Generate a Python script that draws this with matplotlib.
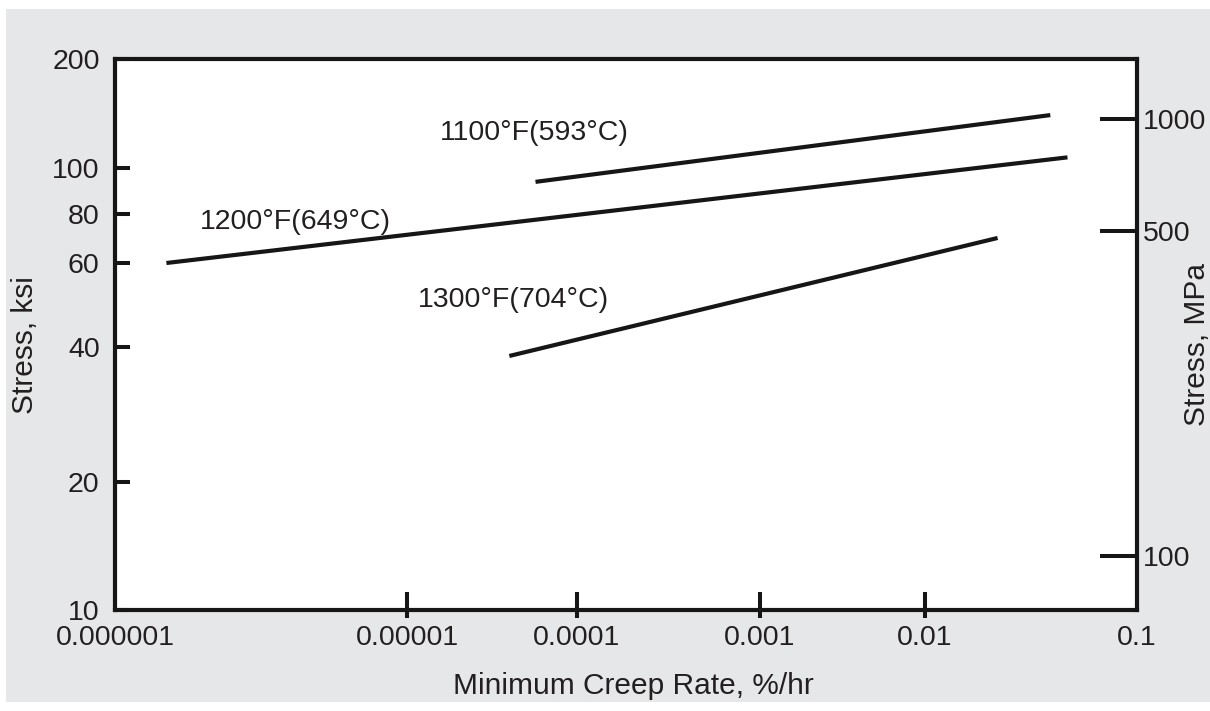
"""
Minimum creep rate vs stress for three test temperatures.
"""
import matplotlib
matplotlib.use("Agg")
import matplotlib.pyplot as plt
import numpy as np
from matplotlib.patches import Rectangle

# --- data ---
tempLabels = ["1100°F(593°C)", "1200°F(649°C)", "1300°F(704°C)"]
rate1100 = [5.7e-5, 0.039]
stress1100 = [93.5, 140]
rate1200 = [1.5e-6, 0.047]
stress1200 = [60, 107]
rate1300 = [4.0e-5, 0.022]
stress1300 = [38.2, 69.5]

labelRates = [1.56e-5, 1.95e-6, 1.16e-5]
labelStress = [125, 76.3, 50.2]

xTicks = [1e-6, 1e-5, 1e-4, 1e-3, 1e-2, 1e-1]
xTickLabels = ["0.000001", "0.00001", "0.0001", "0.001", "0.01", "0.1"]
ksiTicks = [10, 20, 40, 60, 80, 100, 200]
mpaTicks = [100, 500, 1000]

# the printed axes are hand drawn, so decades are not evenly spaced:
# pixel offsets of each tick from the axis origin
xTickPix = [0, 292, 462, 645, 810, 1022]
ksiTickPix = [0, 128, 263, 347, 396, 442, 551]
mpaKnots = [76.5, 100, 500, 1000, 1450]
mpaKnotPix = [0, 54, 379, 491, 551]

INK = "#231f20"
FONT = "Liberation Sans"
TICKSIZE = 20.5
LABELSIZE = 21.5


def makeScale(values, pix):
    """
    Builds forward/inverse functions for a piecewise log scale.

    :param values: Data values at the knots.
    :param pix: Pixel positions of the knots.
    :return: (forward, inverse) pair for FuncScale.
    """
    logv = np.log10(np.asarray(values, float))
    pix = np.asarray(pix, float)
    s0 = (pix[1] - pix[0]) / (logv[1] - logv[0])
    s1 = (pix[-1] - pix[-2]) / (logv[-1] - logv[-2])

    def forward(v):
        v = np.asarray(v, float)
        lv = np.log10(np.clip(v, 1e-30, None))
        out = np.interp(lv, logv, pix)
        out = np.where(lv < logv[0], pix[0] + (lv - logv[0]) * s0, out)
        out = np.where(lv > logv[-1], pix[-1] + (lv - logv[-1]) * s1, out)
        return out

    def inverse(p):
        p = np.asarray(p, float)
        lv = np.interp(p, pix, logv)
        lv = np.where(p < pix[0], logv[0] + (p - pix[0]) / s0, lv)
        lv = np.where(p > pix[-1], logv[-1] + (p - pix[-1]) / s1, lv)
        return 10 ** lv

    return forward, inverse


def plotCreep(outPath):
    plt.rcParams["font.family"] = [FONT, "DejaVu Sans"]

    fig = plt.figure(figsize=(12.1, 7.11), dpi=100, facecolor="white")
    fig.patches.append(Rectangle((6 / 1210, 0.012), 1204 / 1210, 0.976,
                                 transform=fig.transFigure,
                                 facecolor="#e6e7e8", edgecolor="none",
                                 zorder=-10))

    ax = fig.add_axes([115 / 1210, 1 - 610 / 711, 1022 / 1210, 551 / 711])
    ax.set_facecolor("white")

    ax.set_xscale("function", functions=makeScale(xTicks, xTickPix))
    ax.set_yscale("function", functions=makeScale(ksiTicks, ksiTickPix))
    ax.set_xlim(xTicks[0], xTicks[-1])
    ax.set_ylim(ksiTicks[0], ksiTicks[-1])

    for rates, stress in [(rate1100, stress1100),
                          (rate1200, stress1200),
                          (rate1300, stress1300)]:
        ax.plot(rates, stress, color="#161616", lw=3.0,
                solid_capstyle="butt")

    for txt, xr, ys in zip(tempLabels, labelRates, labelStress):
        ax.text(xr, ys, txt, ha="left", va="center", fontsize=TICKSIZE,
                color=INK)

    for sp in ax.spines.values():
        sp.set_linewidth(3.0)
        sp.set_color("#161616")

    # x ticks: in part as major, out part as minor
    ax.xaxis.remove_overlapping_locs = False
    ax.set_xticks(xTicks)
    ax.set_xticklabels(xTickLabels)
    ax.set_xticks(xTicks[1:-1], minor=True)
    ax.xaxis.set_minor_formatter(plt.NullFormatter())
    ax.tick_params(axis="x", which="major", direction="in", length=13,
                   width=2.9, pad=11, labelsize=TICKSIZE, labelcolor=INK,
                   color="#161616")
    ax.tick_params(axis="x", which="minor", direction="out", length=6,
                   width=2.9, color="#161616")

    ax.set_yticks(ksiTicks)
    ax.set_yticklabels([str(t) for t in ksiTicks])
    ax.yaxis.set_minor_locator(plt.NullLocator())
    ax.tick_params(axis="y", which="major", direction="in", length=11,
                   width=2.9, pad=11, labelsize=TICKSIZE, labelcolor=INK,
                   color="#161616")

    for tk in (ax.xaxis.get_major_ticks()[0], ax.xaxis.get_major_ticks()[-1],
               ax.yaxis.get_major_ticks()[0], ax.yaxis.get_major_ticks()[-1]):
        tk.tick1line.set_visible(False)

    ax.set_xlabel("Minimum Creep Rate, %/hr", fontsize=LABELSIZE, color=INK)
    ax.xaxis.set_label_coords(0.507, -0.112)
    ax.set_ylabel("Stress, ksi", fontsize=LABELSIZE, color=INK)
    ax.yaxis.set_label_coords(-0.074, 0.481)

    # MPa axis on the right
    ax2 = ax.twinx()
    ax2.set_yscale("function", functions=makeScale(mpaKnots, mpaKnotPix))
    ax2.set_ylim(mpaKnots[0], mpaKnots[-1])
    ax2.set_yticks(mpaTicks)
    ax2.set_yticklabels([str(t) for t in mpaTicks])
    ax2.yaxis.set_minor_locator(plt.NullLocator())
    ax2.tick_params(axis="y", which="major", direction="in", length=27,
                    width=2.9, pad=4, labelsize=TICKSIZE, labelcolor=INK,
                    color="#161616")
    for sp in ax2.spines.values():
        sp.set_visible(False)
    ax2.set_ylabel("Stress, MPa", fontsize=LABELSIZE, color=INK)
    ax2.yaxis.set_label_coords(1.045, 0.481)

    fig.savefig(outPath, dpi=100, facecolor=fig.get_facecolor())


plotCreep("out.png")
